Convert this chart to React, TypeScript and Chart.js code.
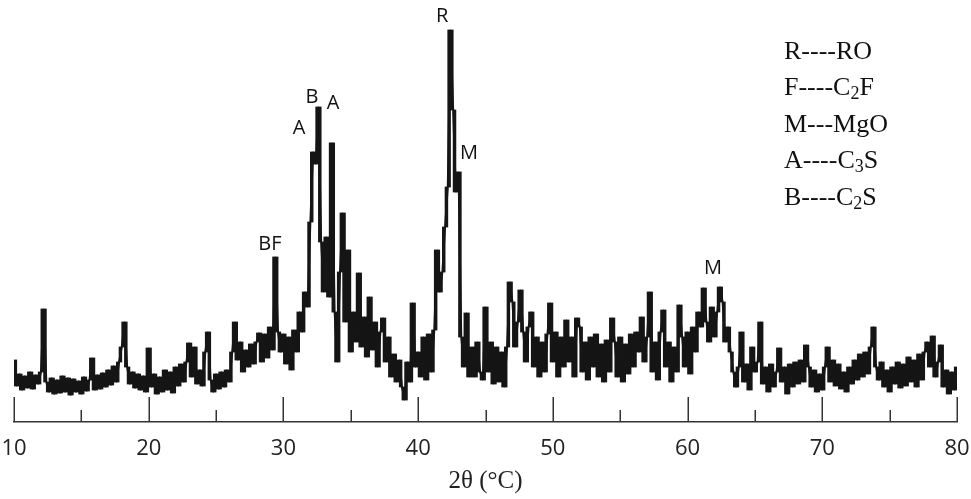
import React, { useEffect, useRef } from "react";
import { Chart, registerables } from "chart.js";

Chart.register(...registerables);

// 2θ sampling grid: 10.0° to 80.0° every 0.2°
const angleStart = 10;
const angleStep = 0.2;

const intensity10s = [
  62, 36, 48, 32, 46, 34, 50, 33, 47, 38,
  50, 113, 40, 30, 44, 28, 42, 29, 46, 30,
  44, 27, 43, 30, 41, 28, 45, 31, 42, 64,
  32, 47, 33, 49, 35, 52, 37, 56, 40, 60,
  75, 100, 55, 38, 50, 34, 48, 32, 46, 30,
];
const intensity20s = [
  74, 35, 48, 28, 45, 30, 52, 32, 50, 29,
  55, 36, 58, 40, 60, 79, 45, 75, 38, 52,
  36, 70, 90, 42, 30, 48, 33, 50, 35, 52,
  40, 70, 100, 62, 80, 50, 72, 55, 78, 58,
  80, 89, 60, 88, 64, 95, 72, 165, 90, 70,
];
const intensity30s = [
  88, 58, 85, 52, 92, 70, 110, 90, 130, 115,
  200, 270, 258, 315, 180, 130, 185, 125, 279, 110,
  60, 150, 209, 100, 172, 70, 110, 80, 149, 75,
  105, 65, 125, 72, 100, 55, 90, 104, 60, 85,
  45, 68, 40, 62, 35, 22, 60, 40, 119, 55,
];
const intensity40s = [
  70, 45, 85, 42, 88, 50, 92, 172, 130, 150,
  195, 235, 392, 312, 230, 250, 85, 55, 109, 45,
  75, 45, 80, 50, 42, 115, 50, 80, 38, 75,
  40, 70, 35, 75, 140, 120, 75, 100, 132, 90,
  60, 95, 110, 55, 85, 45, 80, 50, 88, 119,
];
const intensity50s = [
  60, 90, 45, 85, 55, 102, 60, 85, 45, 104,
  95, 50, 80, 42, 85, 55, 88, 45, 78, 40,
  82, 50, 104, 80, 45, 85, 40, 78, 48, 88,
  55, 90, 70, 105, 60, 85, 130, 50, 80, 42,
  90, 112, 55, 80, 40, 75, 50, 117, 85, 55,
];
const intensity60s = [
  90, 48, 95, 70, 110, 95, 134, 100, 80, 115,
  85, 110, 135, 120, 80, 95, 70, 50, 35, 55,
  90, 40, 58, 32, 75, 50, 60, 100, 38, 55,
  30, 58, 35, 50, 74, 40, 55, 28, 58, 35,
  60, 38, 62, 40, 77, 55, 35, 52, 30, 48,
];
const intensity70s = [
  32, 55, 75, 40, 62, 36, 58, 33, 50, 30,
  55, 38, 62, 42, 68, 45, 70, 48, 75, 95,
  55, 42, 60, 35, 52, 30, 55, 38, 60, 34,
  58, 36, 65, 40, 62, 35, 68, 42, 70, 80,
  55, 86, 45, 60, 77, 35, 52, 28, 50, 32,
];
const intensity80 = [55];

// x-axis ticks
const majorTicks = [10, 20, 30, 40, 50, 60, 70, 80];
const minorTicks = [15, 25, 35, 45, 55, 65, 75];

// Peak labels: [label, 2θ, intensity at label centre]
const peakLabels: [string, number, number][] = [
  ["R", 41.78, 406],
  ["B", 32.12, 325],
  ["A", 33.68, 319],
  ["A", 31.16, 294],
  ["BF", 29.0, 178],
  ["M", 43.78, 269],
  ["M", 61.89, 154],
];

// Phase key ("_" marks a subscript digit)
const phaseKey = ["R----RO", "F----C_2F", "M---MgO", "A----C_3S", "B----C_2S"];

export default function App() {
  const ref = useRef<HTMLCanvasElement | null>(null);

  useEffect(() => {
    const canvas = ref.current;
    if (!canvas) return;
    const values = [
      ...intensity10s,
      ...intensity20s,
      ...intensity30s,
      ...intensity40s,
      ...intensity50s,
      ...intensity60s,
      ...intensity70s,
      ...intensity80,
    ];
    const points = values.map((v, i) => ({ x: +(angleStart + i * angleStep).toFixed(1), y: v }));
    // the trace drawn as a dense detector band: each step between two readings
    // covers the range swept by the signal in that step
    const band = points.slice(0, -1).map((p, i) => {
      const q = points[i + 1];
      return { x: (p.x + q.x) / 2, y: [Math.min(p.y, q.y), Math.max(p.y, q.y)] };
    });

    const tickPlugin = {
      id: "innerTicks",
      afterDraw(chart: any) {
        const ctx = chart.ctx;
        const xs = chart.scales.x;
        const y0 = xs.top;
        ctx.save();
        ctx.strokeStyle = "#333";
        ctx.lineWidth = 1.5;
        ctx.beginPath();
        majorTicks.forEach((t) => {
          const px = Math.round(xs.getPixelForValue(t)) + 0.25;
          ctx.moveTo(px, y0);
          ctx.lineTo(px, y0 - 25);
        });
        minorTicks.forEach((t) => {
          const px = Math.round(xs.getPixelForValue(t)) + 0.25;
          ctx.moveTo(px, y0);
          ctx.lineTo(px, y0 - 12);
        });
        ctx.stroke();
        ctx.restore();
      },
    };

    const labelPlugin = {
      id: "peakLabels",
      afterDatasetsDraw(chart: any) {
        const ctx = chart.ctx;
        const xs = chart.scales.x;
        const ys = chart.scales.y;
        ctx.save();
        ctx.fillStyle = "#111";
        ctx.font = "20px 'Open Sans'";
        ctx.textAlign = "center";
        ctx.textBaseline = "middle";
        peakLabels.forEach(([t, a, v]) => {
          ctx.fillText(t, xs.getPixelForValue(a), ys.getPixelForValue(v));
        });
        // phase key
        const left = chart.chartArea.right - 173;
        let y = 52;
        phaseKey.forEach((line) => {
          let x = left;
          ctx.textAlign = "left";
          ctx.textBaseline = "middle";
          let i = 0;
          while (i < line.length) {
            if (line[i] === "_") {
              ctx.font = "18px 'Liberation Serif'";
              ctx.fillText(line[i + 1], x, y + 6);
              x += ctx.measureText(line[i + 1]).width;
              i += 2;
            } else {
              let j = i;
              while (j < line.length && line[j] !== "_") j++;
              const s = line.slice(i, j);
              ctx.font = "26px 'Liberation Serif'";
              ctx.fillText(s, x, y);
              x += ctx.measureText(s).width;
              i = j;
            }
          }
          y += 36.5;
        });
        ctx.restore();
      },
    };

    const chart = new Chart(canvas, {
      type: "bar",
      data: {
        datasets: [
          {
            type: "bar",
            data: band as any,
            backgroundColor: "#151515",
            borderWidth: 0,
            barPercentage: 1,
            categoryPercentage: 1,
            inflateAmount: 0.4,
          },
          {
            type: "line",
            data: points,
            borderColor: "#151515",
            borderWidth: 2,
            pointRadius: 0,
            tension: 0,
            borderJoinStyle: "bevel",
            fill: false,
          },
        ],
      },
      options: {
        animation: false,
        responsive: false,
        events: [],
        layout: { padding: { left: 14, right: 14, top: 22, bottom: 0 } },
        plugins: { legend: { display: false }, tooltip: { enabled: false }, title: { display: false } },
        scales: {
          x: {
            type: "linear",
            min: 10,
            max: 80,
            offset: false,
            afterFit: (s: any) => {
              s.height = 77;
              s.paddingLeft = 0;
              s.paddingRight = 0;
            },
            ticks: {
              stepSize: 10,
              color: "#222",
              font: { family: "'Open Sans'", size: 22 },
              padding: 14,
              maxRotation: 0,
              autoSkip: false,
            },
            grid: { display: false, drawTicks: false, offset: false },
            border: { display: true, color: "#333", width: 1.5 },
            title: {
              display: true,
              text: "2θ (°C)",
              color: "#222",
              font: { family: "'Liberation Serif'", size: 25 },
              padding: { top: 0, bottom: 3 },
            },
          },
          y: { display: false, min: 0, max: 400 },
        },
      },
      plugins: [tickPlugin, labelPlugin],
    });
    return () => chart.destroy();
  }, []);

  return (
    <div style={{ position: "absolute", left: 0, top: 0, width: 971, height: 499, background: "#fff" }}>
      <canvas ref={ref} width={971} height={499} style={{ display: "block" }} />
    </div>
  );
}
